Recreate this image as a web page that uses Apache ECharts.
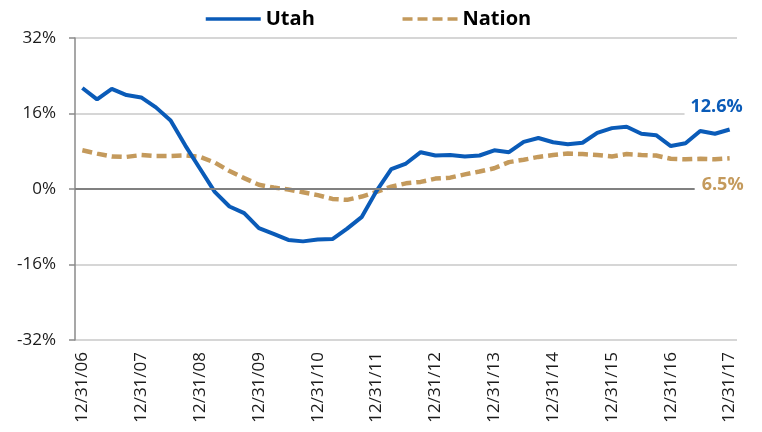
<!DOCTYPE html>
<html>
<head>
<meta charset="utf-8">
<title>Utah vs Nation</title>
<script src="https://cdn.jsdelivr.net/npm/echarts@6/dist/echarts.min.js"></script>
<style>
    html, body { margin: 0; padding: 0; background: #fff; }
    #show-lineGraph { width: 762px; height: 432px; }
</style>
</head>
<body>
<div id="show-lineGraph"></div>
<script>
// 季度日期
var categories = [
    '12/31/06', '3/31/07', '6/30/07', '9/30/07',
    '12/31/07', '3/31/08', '6/30/08', '9/30/08',
    '12/31/08', '3/31/09', '6/30/09', '9/30/09',
    '12/31/09', '3/31/10', '6/30/10', '9/30/10',
    '12/31/10', '3/31/11', '6/30/11', '9/30/11',
    '12/31/11', '3/31/12', '6/30/12', '9/30/12',
    '12/31/12', '3/31/13', '6/30/13', '9/30/13',
    '12/31/13', '3/31/14', '6/30/14', '9/30/14',
    '12/31/14', '3/31/15', '6/30/15', '9/30/15',
    '12/31/15', '3/31/16', '6/30/16', '9/30/16',
    '12/31/16', '3/31/17', '6/30/17', '9/30/17',
    '12/31/17'
];
// Utah (%)
var utahValues = [
    21.4, 19.0, 21.2, 19.9, 19.4, 17.3, 14.5, 9.2, 4.3,
    -0.6, -3.7, -5.1, -8.3, -9.5, -10.8, -11.1, -10.7, -10.6,
    -8.4, -5.9, -0.4, 4.2, 5.4, 7.8, 7.1, 7.2, 6.9, 7.1,
    8.2, 7.8, 10.0, 10.8, 9.9, 9.5, 9.8, 11.9, 12.9, 13.2,
    11.7, 11.4, 9.1, 9.7, 12.3, 11.7, 12.6
];
// Nation (%)
var nationValues = [
    8.2, 7.5, 6.9, 6.8, 7.2, 7.0, 7.0, 7.1, 6.8,
    5.6, 3.8, 2.3, 0.9, 0.3, -0.1, -0.7, -1.3, -2.1,
    -2.3, -1.6, -0.6, 0.5, 1.2, 1.5, 2.2, 2.4, 3.1, 3.7,
    4.4, 5.7, 6.2, 6.8, 7.2, 7.5, 7.4, 7.2, 6.9, 7.4,
    7.2, 7.1, 6.4, 6.3, 6.4, 6.3, 6.5
];
var yTicks = [-32, -16, 0, 16, 32];

var utahColor = '#0a5bb8';
var nationColor = '#c49a5c';
var fontName = "'Open Sans', 'Noto Sans', sans-serif";
var last = categories.length - 1;

var myChart = echarts.init(document.getElementById('show-lineGraph'), null, {renderer: 'canvas'});

var option = {
    animation: false,
    textStyle: {fontFamily: fontName},
    legend: {
        data: ['Utah', 'Nation'],
        left: 199,
        top: 4,
        itemWidth: 55,
        itemHeight: 20,
        itemGap: 86,
        itemStyle: {opacity: 0},   // 图例只显示线，不显示圆点
        lineStyle: {width: 3.5, opacity: 1},
        textStyle: {
            fontSize: 20,
            fontWeight: 'bold',
            color: '#000',
            fontFamily: fontName
        }
    },
    grid: {
        left: 75,
        right: 25,
        top: 38,
        bottom: 92,
        containLabel: false
    },
    xAxis: {
        type: 'category',
        data: categories,
        boundaryGap: true,
        axisLine: {show: false, onZero: false},
        axisTick: {show: false},
        axisLabel: {
            rotate: 90,
            interval: 3,
            margin: 12,
            fontSize: 17,
            color: '#1a1a1a'
        },
        splitLine: {show: false}
    },
    yAxis: {
        type: 'value',
        min: yTicks[0],
        max: yTicks[yTicks.length - 1],
        interval: 16,
        axisLine: {show: true, lineStyle: {color: '#8a8a8a', width: 1.5}},
        axisTick: {show: true, length: 6, lineStyle: {color: '#8a8a8a', width: 1.5}},
        axisLabel: {
            formatter: '{value}%',
            margin: 19,
            fontSize: 17,
            color: '#1a1a1a'
        },
        splitLine: {lineStyle: {color: '#c8c8c8', width: 1.5}}
    },
    series: [
        {
            name: 'Utah',
            type: 'line',
            data: utahValues,
            symbol: 'none',
            z: 4,
            lineStyle: {color: utahColor, width: 4},
            itemStyle: {color: utahColor},
            // 零线
            markLine: {
                silent: true,
                symbol: 'none',
                label: {show: false},
                lineStyle: {color: '#808080', width: 2, type: 'solid'},
                data: [{yAxis: 0}]
            },
            markPoint: {
                symbol: 'rect',
                symbolSize: 1,
                itemStyle: {color: 'rgba(0,0,0,0)'},
                label: {
                    show: true,
                    position: 'inside',
                    offset: [-13, -23],
                    formatter: '{c}%',
                    fontSize: 18,
                    fontWeight: 'bold',
                    color: utahColor,
                    backgroundColor: '#fff',
                    padding: [1, 6]
                },
                data: [{coord: [last, utahValues[last]], value: utahValues[last]}]
            }
        },
        {
            name: 'Nation',
            type: 'line',
            data: nationValues,
            symbol: 'none',
            z: 3,
            lineStyle: {color: nationColor, width: 4.5, type: [10, 5]},
            itemStyle: {color: nationColor},
            markPoint: {
                symbol: 'rect',
                symbolSize: 1,
                itemStyle: {color: 'rgba(0,0,0,0)'},
                label: {
                    show: true,
                    position: 'inside',
                    offset: [-7, 27],
                    formatter: function (p) {
                        return p.value.toFixed(1) + '%';
                    },
                    fontSize: 18,
                    fontWeight: 'bold',
                    color: nationColor,
                    backgroundColor: '#fff',
                    padding: [1, 7]
                },
                data: [{coord: [last, nationValues[last]], value: nationValues[last]}]
            }
        }
    ]
};

myChart.setOption(option);
</script>
</body>
</html>
